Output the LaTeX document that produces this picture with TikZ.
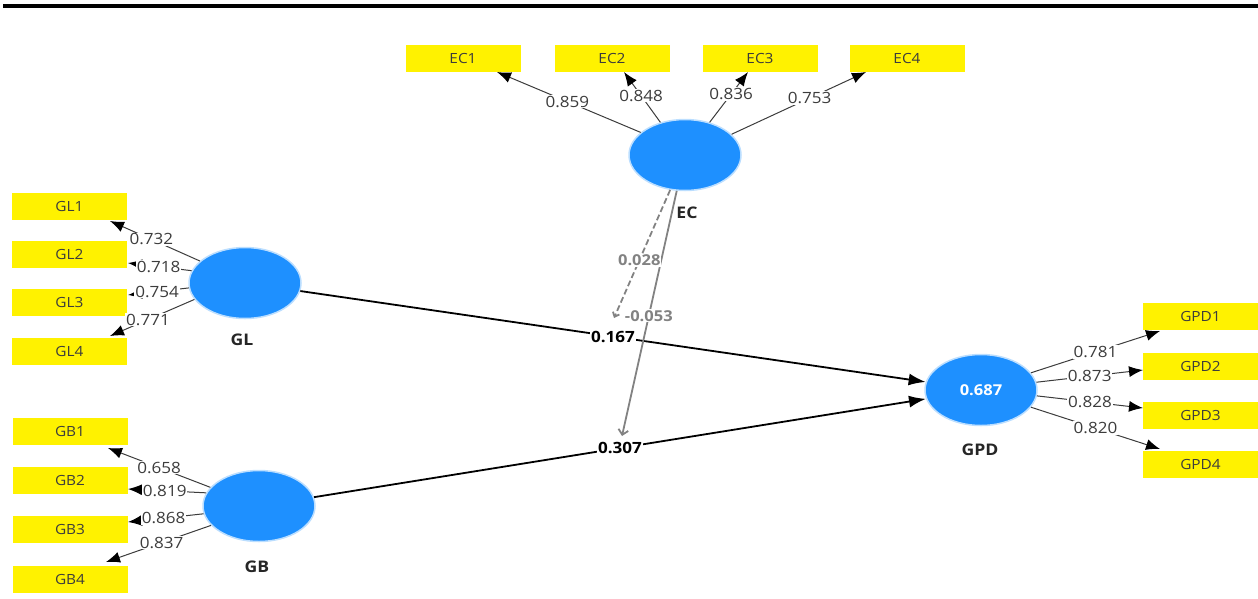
\documentclass[tikz,border=0pt]{standalone}
\usepackage{fontspec}
\setmainfont[FakeStretch=1.1]{Open Sans}
\usetikzlibrary{arrows.meta,shapes.geometric}
\definecolor{ind}{RGB}{255,242,0}
\definecolor{lv}{RGB}{30,144,255}
\definecolor{txt}{RGB}{60,60,60}
\definecolor{modc}{RGB}{130,130,130}
\tikzset{
  indbox/.style={fill=ind, minimum width=115pt, minimum height=27pt, inner sep=0pt, font=\fontsize{14}{16}\selectfont, text=txt},
  lvnode/.style={ellipse, fill=lv, minimum width=112pt, minimum height=71pt, inner sep=0pt, draw=lv!30, line width=1.5pt},
  lvlabel/.style={font=\bfseries\fontsize{16}{18}\selectfont, text=black!85},
  load/.style={fill=white, inner sep=1pt, font=\fontsize{15.5}{17}\selectfont, text=txt},
  loadarrow/.style={draw=txt, line width=1pt, -{Latex[length=14pt,width=11pt,color=black]}},
  patharrow/.style={draw=black, line width=1.8pt, -{Latex[length=17pt,width=12pt]}},
  coef/.style={fill=white, inner sep=1pt, font=\bfseries\fontsize{15.5}{17}\selectfont, text=black},
  modline/.style={draw=modc, line width=1.8pt},
  moddash/.style={dash pattern=on 6pt off 3pt},
  modlabel/.style={fill=white, inner sep=1pt, font=\bfseries\fontsize{15}{17}\selectfont, text=modc},
}
\begin{document}
\begin{tikzpicture}[x=1pt,y=-1pt]
\useasboundingbox (0,0) rectangle (1258,598);
\fill[black] (3,4) rectangle (1258,8);

% latent variables
\node[lvnode] (EC) at (685,155) {};
\node[lvnode] (GL) at (245,283) {};
\node[lvnode] (GB) at (259,506) {};
\node[lvnode, font=\bfseries\fontsize{15}{17}\selectfont, text=white] (GPD) at (981,390) {0.687};
\node[lvlabel] (ECl) at (687,213) {EC};
\node[lvlabel] (GLl) at (242,340) {GL};
\node[lvlabel] (GBl) at (257,567) {GB};
\node[lvlabel] (GPDl) at (980,450) {GPD};

% indicators
\node[indbox] (EC1) at (463,58) {EC1};
\node[indbox] (EC2) at (612,58) {EC2};
\node[indbox] (EC3) at (760,58) {EC3};
\node[indbox] (EC4) at (907,58) {EC4};
\node[indbox] (GL1) at (69.5,206) {GL1};
\node[indbox] (GL2) at (69.5,254) {GL2};
\node[indbox] (GL3) at (69.5,302) {GL3};
\node[indbox] (GL4) at (69.5,351) {GL4};
\node[indbox] (GB1) at (70,431.5) {GB1};
\node[indbox] (GB2) at (70,480.5) {GB2};
\node[indbox] (GB3) at (70,529) {GB3};
\node[indbox] (GB4) at (70,579) {GB4};
\node[indbox] (GPD1) at (1200.5,316.5) {GPD1};
\node[indbox] (GPD2) at (1200.5,366) {GPD2};
\node[indbox] (GPD3) at (1200.5,415) {GPD3};
\node[indbox] (GPD4) at (1200.5,464) {GPD4};

% arrow tips
\coordinate (tEC1) at (497,72);
\coordinate (tEC2) at (624,72);
\coordinate (tEC3) at (748,72);
\coordinate (tEC4) at (866,72);
\coordinate (tGL1) at (110,221);
\coordinate (tGL2) at (128,263);
\coordinate (tGL3) at (128,295);
\coordinate (tGL4) at (110,336);
\coordinate (tGB1) at (108,448);
\coordinate (tGB2) at (128,489);
\coordinate (tGB3) at (128,522);
\coordinate (tGB4) at (106,562);
\coordinate (tGPD1) at (1160,331);
\coordinate (tGPD2) at (1143,370);
\coordinate (tGPD3) at (1143,408);
\coordinate (tGPD4) at (1160,449);

% loadings
\draw[loadarrow] (EC.153) -- (tEC1) node[load, pos=0.51] {0.859};
\draw[loadarrow] (EC.127) -- (tEC2) node[load, pos=0.53] {0.848};
\draw[loadarrow] (EC.53) -- (tEC3) node[load, pos=0.56] {0.836};
\draw[loadarrow] (EC.24) -- (tEC4) node[load, pos=0.58] {0.753};

\draw[loadarrow] (GL.154) -- (tGL1) node[load, pos=0.54] {0.732};
\draw[loadarrow] (GL.167) -- (tGL2) node[load, pos=0.52] {0.718};
\draw[loadarrow] (GL.185) -- (tGL3) node[load, pos=0.52] {0.754};
\draw[loadarrow] (GL.198) -- (tGL4) node[load, pos=0.55] {0.771};

\draw[loadarrow] (GB.159) -- (tGB1) node[load, pos=0.5] {0.658};
\draw[loadarrow] (GB.166) -- (tGB2) node[load, pos=0.53] {0.819};
\draw[loadarrow] (GB.188) -- (tGB3) node[load, pos=0.53] {0.868};
\draw[loadarrow] (GB.202) -- (tGB4) node[load, pos=0.47] {0.837};

\draw[loadarrow] (GPD.19) -- (tGPD1) node[load, pos=0.5] {0.781};
\draw[loadarrow] (GPD.8) -- (tGPD2) node[load, pos=0.5] {0.873};
\draw[loadarrow] (GPD.-6) -- (tGPD3) node[load, pos=0.5] {0.828};
\draw[loadarrow] (GPD.-19) -- (tGPD4) node[load, pos=0.5] {0.820};

% structural paths
\draw[patharrow] (GL) -- (GPD) node[coef, pos=0.5] {0.167};
\draw[patharrow] (GB) -- (GPD) node[coef, pos=0.5] {0.307};

% moderating effects
\coordinate (m1) at (614,318);
\coordinate (m2) at (622,436);
\draw[modline, -{Straight Barb[length=5pt,width=10pt]}] (EC.257) -- (m2) node[modlabel, pos=0.51] {-0.053};
\draw[modline, moddash, -{Straight Barb[length=4pt,width=7pt]}] (EC.247) -- (m1) node[modlabel, pos=0.55] {0.028};
\end{tikzpicture}
\end{document}
